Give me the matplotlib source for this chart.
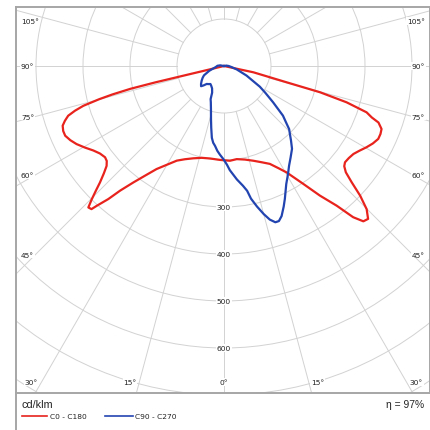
import numpy as np
import matplotlib
matplotlib.use("Agg")
import matplotlib.pyplot as plt
from matplotlib.patches import Circle
from matplotlib.lines import Line2D

# Luminous intensity distribution, gamma angle in degrees (negative = left half),
# intensity in cd/klm.
c0_gamma = [-90, -76.6, -76.3, -75.7, -75.1, -74.2, -73.3, -72.3, -71.0, -69.7,
            -68.0, -66.3, -64.2, -62.1, -59.6, -57.1, -54.8, -52.5, -51.0, -49.6,
            -48.2, -46.8, -45.8, -44.8, -43.8, -42.8, -42.3, -41.0, -39.8, -37.9,
            -35.8, -33.2, -30.1, -26.5, -22.7, -18.4, -13.6, -8.6, -2.4, 3.6,
            7.8, 12.6, 17.2, 21.4, 25.1, 28.0, 30.5, 33.9, 36.5, 38.9,
            40.5, 41.9, 43.3, 44.9, 46.4, 47.7, 48.9, 50.2, 51.5, 53.6,
            55.8, 58.0, 60.3, 62.5, 64.7, 66.5, 68.2, 69.9, 70.8, 72.0,
            73.5, 74.7, 75.4, 77.9, 90]
c0_value = [0, 150, 205, 245, 275, 311, 331, 348, 358, 366,
            369, 369, 363, 355, 343, 331, 323, 319, 321, 328,
            343, 362, 380, 399, 417, 415, 402, 375, 345, 314,
            288, 262, 243, 225, 215, 207, 201, 199, 200, 202,
            200, 204, 211, 220, 230, 246, 263, 302, 343, 382,
            423, 444, 447, 430, 400, 367, 344, 333, 329, 330,
            333, 340, 349, 357, 363, 363, 361, 350, 333, 319,
            272, 212, 138, 64, 0]

c90_gamma = [-110, -100, -92, -86, -80, -72, -65, -61, -56.6, -52,
             -48.6, -46.5, -43.9, -41, -37, -33, -28, -24, -22, -20,
             -16.8, -13.8, -11.7, -9.6, -8, -6.4, -4.5, -2.6, -0.4, 1.7,
             3.2, 6.5, 9, 10.5, 11.5, 13.2, 15, 16.6, 18.2, 19.5,
             21, 23, 24.6, 27.8, 30.5, 33.2, 36, 39.4, 42, 44,
             45.9, 47.5, 49.9, 53.5, 57, 60, 67, 75, 82, 90,
             100, 110]
c90_value = [0, 8, 14, 16, 20, 33, 47, 52, 57, 62,
             65, 60, 53, 51, 48, 50, 54, 62, 76, 82,
             96, 116, 134, 155, 165, 171, 181, 189, 198, 210,
             222, 243, 258, 270, 288, 307, 326, 341, 350, 350,
             342, 325, 311, 284, 268, 253, 241, 228, 213, 202,
             193, 180, 164, 130, 105, 88, 52, 28, 16, 10,
             5, 0]

ring_values = [100, 200, 300, 400, 500, 600, 700, 800, 900]
ring_labels = [300, 400, 500, 600]
spoke_angles = list(range(0, 360, 15))
side_labels = ["105°", "90°", "75°", "60°", "45°"]
bottom_labels = ["30°", "15°", "0°", "15°", "30°"]
series_names = ["C0 - C180", "C90 - C270"]
unit_text = "cd/klm"
efficiency_text = "η = 97%"

RED = "#e8231d"
BLUE = "#2244b0"
GRID = "#d2d2d2"
FRAME = "#a6a6a6"

W = H = 431
S = 0.47                  # pixels per cd/klm
CX, CY = 224, 67          # pole position in pixels
BOX = (16, 8, 430, 394)   # left, top, right, bottom in pixels

fig = plt.figure(figsize=(W / 100, H / 100), dpi=100)
fig.patch.set_facecolor("white")

l, t, r, b = BOX
ax = fig.add_axes([l / W, 1 - b / H, (r - l) / W, (b - t) / H])
ax.set_xlim((l - CX) / S, (r - CX) / S)
ax.set_ylim((CY - b) / S, (CY - t) / S)
ax.set_xticks([])
ax.set_yticks([])
for sp in ax.spines.values():
    sp.set_color(FRAME)
    sp.set_linewidth(1.4)


def to_xy(gamma, value):
    g = np.radians(np.asarray(gamma, dtype=float))
    v = np.asarray(value, dtype=float)
    return v * np.sin(g), -v * np.cos(g)


# polar grid
for rv in ring_values:
    ax.add_patch(Circle((0, 0), rv, fill=False, ec=GRID, lw=0.7, zorder=1))
for a in spoke_angles:
    xs, ys = to_xy([a, a], [ring_values[0], 1200])
    ax.plot(xs, ys, color=GRID, lw=0.7, zorder=1)

# intensity curves
x0, y0 = to_xy(c0_gamma, c0_value)
ax.plot(x0, y0, color=RED, lw=1.6, zorder=3, solid_joinstyle="round")
x1, y1 = to_xy(c90_gamma, c90_value)
ax.plot(x1, y1, color=BLUE, lw=1.6, zorder=4, solid_joinstyle="round")

small = dict(family="DejaVu Sans", fontsize=5.4, color="#222222")
box = dict(facecolor="white", edgecolor="none", pad=0.6)

for rv in ring_labels:
    ax.text(0, -rv, str(rv), ha="center", va="center", bbox=box, zorder=5, **small)


def px(x, y):
    return x / W, 1 - y / H


side_y = [22, 67, 117.5, 176, 255.5]
for lab, yy in zip(side_labels, side_y):
    fig.text(*px(21, yy), lab, ha="left", va="center", bbox=box, **small)
    fig.text(*px(425, yy), lab, ha="right", va="center", bbox=box, **small)

bottom_x = [31.5, 130, 223.5, 317.5, 416.5]
for lab, xx in zip(bottom_labels, bottom_x):
    fig.text(*px(xx, 383.3), lab, ha="center", va="center", bbox=box, **small)

# frame line continuing down the legend panel
fig.add_artist(Line2D([l / W, l / W], [0, 1 - b / H], color=FRAME, lw=1.4))

fig.text(*px(21.5, 405), unit_text, ha="left", va="center",
         family="Liberation Sans", fontsize=7.8, color="#222222")
fig.text(*px(424.5, 405), efficiency_text, ha="right", va="center",
         family="Liberation Sans", fontsize=7.4, color="#222222")

# legend keys
for (xa, xb, xt), name, col in zip([(22, 47, 50.5), (105, 133.5, 135)],
                                   series_names, [RED, BLUE]):
    fig.add_artist(Line2D([xa / W, xb / W], [1 - 417.3 / H] * 2, color=col, lw=1.2))
    fig.text(*px(xt, 417.3), name, ha="left", va="center", **small)

fig.savefig("out.png", dpi=100, facecolor="white")
